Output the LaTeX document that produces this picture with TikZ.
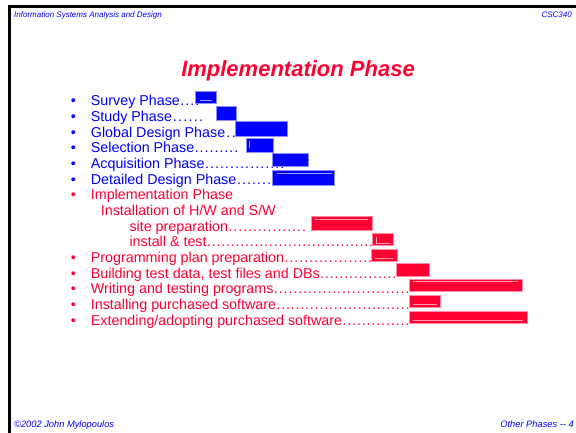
\documentclass[tikz,border=0pt]{standalone}
\usepackage{fontspec}
\setmainfont{Liberation Sans}
\usetikzlibrary{positioning}
\definecolor{slideblue}{RGB}{0,0,255}
\definecolor{slidered}{RGB}{255,0,51}
\newcommand{\dotsto}[2]{\makebox[#1][l]{#2\xleaders\hbox to .333em{\hss.\hss}\hfill}}

\begin{document}
\begin{tikzpicture}[
	x=1pt, y=-1pt,
  item/.style = {anchor=base west, inner sep=0pt, font=\fontsize{14.3}{16}\selectfont},
  dotb/.style = {anchor=base, inner sep=0pt, font=\fontsize{14.3}{16}\selectfont},
  small/.style = {inner sep=0pt, text=slideblue, font=\fontsize{8}{9}\selectfont\itshape},
  foot/.style = {small, font=\fontsize{9.3}{10}\selectfont\itshape},
  bluebar/.style = {fill=slideblue, draw=slideblue!45, line width=0.7pt},
  redbar/.style = {fill=slidered, draw=slidered!45, line width=0.7pt},
  bluegleam/.style = {draw=slideblue!40, line width=0.5pt},
  redgleam/.style = {draw=slidered!40, line width=0.5pt}
  ]
	\useasboundingbox (0,0) rectangle (576,433);
	\draw[line width=2.7pt] (9.5,433) |- (576,6.3);

	\node[small, anchor=base west] (course) at (14,17.7) {Information Systems Analysis and Design};
	\node[small, anchor=base east] (code) at (572,17.7) {CSC340};
	\node[foot, anchor=base west] (copy) at (14,427.5) {\textcopyright2002 John Mylopoulos};
	\node[foot, anchor=base east] (page) at (574,427.5) {Other Phases -{}- 4};

	\node[anchor=base, inner sep=0pt, text=slidered, font=\fontsize{22}{26}\selectfont\bfseries\itshape] (title) at (298,76.8) {Implementation Phase};

	% earlier phases
	\node[dotb, text=slideblue] (b1) at (73.3,106) {•};
	\node[dotb, text=slideblue] (b2) at (73.3,121.6) {•};
	\node[dotb, text=slideblue] (b3) at (73.3,137.3) {•};
	\node[dotb, text=slideblue] (b4) at (73.3,152.9) {•};
	\node[dotb, text=slideblue] (b5) at (73.3,168.6) {•};
	\node[dotb, text=slideblue] (b6) at (73.3,184.2) {•};
	\node[item, text=slideblue] (survey) at (90.7,106) {\dotsto{109pt}{Survey Phase}};
	\node[item, text=slideblue] (study) at (90.7,121.6) {\dotsto{113pt}{Study Phase}};
	\node[item, text=slideblue] (global) at (90.7,137.3) {\dotsto{146pt}{Global Design Phase}};
	\node[item, text=slideblue] (selection) at (90.7,152.9) {\dotsto{148pt}{Selection Phase}};
	\node[item, text=slideblue] (acquisition) at (90.7,168.6) {\dotsto{194pt}{Acquisition Phase}};
	\node[item, text=slideblue] (detailed) at (90.7,184.2) {\dotsto{181pt}{Detailed Design Phase}};

	% implementation phase
	\node[dotb, text=slidered] (b7) at (73.3,199.8) {•};
	\node[dotb, text=slidered] (b8) at (73.3,262.4) {•};
	\node[dotb, text=slidered] (b9) at (73.3,278) {•};
	\node[dotb, text=slidered] (b10) at (73.3,293.7) {•};
	\node[dotb, text=slidered] (b11) at (73.3,309.3) {•};
	\node[dotb, text=slidered] (b12) at (73.3,325) {•};
	\node[item, text=slidered] (impl) at (90.7,199.8) {Implementation Phase};
	\node[item, text=slidered] (install) at (100.7,215.5) {Installation of H/W and S/W};
	\node[item, text=slidered] (site) at (129.3,231.1) {\dotsto{177pt}{site preparation}};
	\node[item, text=slidered] (test) at (129.3,246.8) {\dotsto{244pt}{install \& test}};
	\node[item, text=slidered] (plan) at (90.7,262.4) {\dotsto{282pt}{Programming plan preparation}};
	\node[item, text=slidered] (data) at (90.7,278) {\dotsto{306pt}{Building test data, test files and DBs}};
	\node[item, text=slidered] (writing) at (90.7,293.7) {\dotsto{319pt}{Writing and testing programs}};
	\node[item, text=slidered] (bought) at (90.7,309.3) {\dotsto{319pt}{Installing purchased software}};
	\node[item, text=slidered] (extend) at (90.7,325) {\dotsto{319pt}{Extending/adopting purchased software}};

	\draw[bluebar] (195,91) rectangle (216.7,103.3);
	\draw[bluebar] (216,106.7) rectangle (236.7,120);
	\draw[bluebar] (235.7,121.7) rectangle (287.7,136.7);
	\draw[bluebar] (246,138.3) rectangle (273.7,152.3);
	\draw[bluebar] (272.7,153.3) rectangle (308.7,166.7);
	\draw[bluebar] (272.7,170) rectangle (334.3,185);
	\draw[bluegleam] (200,100) -- (212.3,100);
	\draw[bluegleam] (249,141) -- (249,148);
	\draw[bluegleam] (276.7,173.3) -- (331.7,173.3);

	\draw[redbar] (311,216) rectangle (372.3,230.7);
	\draw[redbar] (372.3,233.3) rectangle (393.7,245);
	\draw[redbar] (371.3,249) rectangle (397.7,261.7);
	\draw[redbar] (396.3,263.3) rectangle (429.3,276);
	\draw[redbar] (409,279) rectangle (522.3,291);
	\draw[redbar] (409.3,295) rectangle (440.3,307.3);
	\draw[redbar] (409.3,311) rectangle (527.7,323.3);
	\draw[redgleam] (315,219.3) -- (368,219.3);
	\draw[redgleam] (376,237) |- (390,243.3);
	\draw[redgleam] (375,258.3) -- (393,258.3);
	\draw[redgleam] (413,281) -- (518,281);
	\draw[redgleam] (413,304.3) -- (436.7,304.3);
	\draw[redgleam] (413,320) -- (523,320);

\end{tikzpicture}
\end{document}
